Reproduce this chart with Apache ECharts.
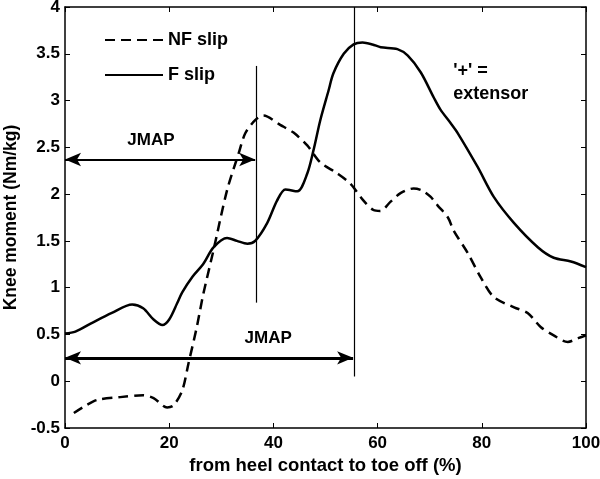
<!DOCTYPE html>
<html><head><meta charset="utf-8">
<script src="https://cdn.jsdelivr.net/npm/echarts@6/dist/echarts.min.js"></script>
<style>html,body{margin:0;padding:0;background:#fff}#c{width:600px;height:479px}</style>
</head><body><div id="c"></div>
<script>
// ---- data ----
const fSlip = [[0,0.51],[2,0.53],[5.4,0.63],[9,0.73],[12.9,0.82],[15,0.78],[17,0.66],[18.7,0.60],[20,0.66],[21.5,0.83],[22.5,0.95],[24.5,1.12],[26.5,1.25],[28.5,1.43],[31.1,1.53],[33,1.50],[35,1.47],[36.5,1.50],[38.8,1.69],[40.7,1.93],[42.3,2.05],[44.6,2.03],[46.5,2.22],[47.7,2.47],[49,2.79],[50.6,3.11],[51.5,3.29],[53.5,3.50],[55.4,3.60],[57.1,3.62],[59,3.60],[60.6,3.57],[63.8,3.55],[65.8,3.48],[68.3,3.30],[70.8,3.03],[72.1,2.90],[74,2.76],[75.4,2.65],[79.2,2.29],[82.3,1.97],[86.2,1.69],[90.8,1.43],[93.8,1.32],[97.1,1.28],[100,1.22]];
const nfSlip = [[1.7,-0.34],[4,-0.26],[6.2,-0.20],[10.6,-0.17],[15,-0.15],[17,-0.18],[19.6,-0.28],[20.8,-0.26],[22.5,-0.10],[23.7,0.19],[25.3,0.58],[26.5,0.92],[28.5,1.40],[31.1,2.04],[33.3,2.43],[34.6,2.65],[36.5,2.79],[38.1,2.84],[41.3,2.74],[43.8,2.66],[46.5,2.52],[49,2.34],[52.3,2.22],[54.8,2.11],[57.3,1.93],[59.2,1.83],[60.5,1.82],[62.5,1.92],[64.4,2.01],[66.9,2.06],[68.5,2.04],[70.2,1.97],[71.5,1.88],[73.5,1.75],[74.6,1.61],[77.3,1.37],[79.8,1.11],[82.3,0.90],[86.2,0.79],[88.8,0.73],[91.3,0.58],[93.8,0.49],[96.5,0.42],[98.5,0.46],[100,0.49]];
const seriesNames = ['NF slip','F slip'];
// JMAP markers: vertical lines [x, yFrom, yTo], arrows [xFrom, xTo, y]
const vLines = [[36.8,0.84,3.37],[55.5,0.05,4]];
const arrows = [[0,36.5,2.37],[0,55.3,0.25]];
const arrowLabels = [['JMAP',16.5,2.58],['JMAP',39,0.46]];
const noteText = ["'+' =", 'extensor'];
const notePos = [74.5,3.19];
const xTicks = [0,100,20];
const yTicks = [-0.5,4,0.5];

const font = 'Liberation Sans, Arial, sans-serif';
const chart = echarts.init(document.getElementById('c'));
const axBase = {
  axisLine:{show:true,onZero:false,lineStyle:{color:'#000',width:1.5}},
  axisTick:{show:true,inside:true,length:5,lineStyle:{color:'#000',width:1}},
  splitLine:{show:false}
};
const lab = {color:'#000',fontFamily:font,fontWeight:'bold',fontSize:17,textBorderWidth:0};
chart.setOption({
  animation:false,
  backgroundColor:'#fff',
  grid:{left:65,right:14,top:7,bottom:51,containLabel:false,outerBoundsMode:'none'},
  legend:{
    orient:'vertical',left:99,top:26,itemWidth:58,itemHeight:12,itemGap:17,
    itemStyle:{opacity:0},
    textStyle:{...lab,fontSize:18,padding:[0,0,0,0]},
    data:seriesNames
  },
  xAxis:[
    {type:'value',min:xTicks[0],max:xTicks[1],interval:xTicks[2],position:'bottom',...axBase,
     axisLabel:{...lab,margin:7},
     name:'from heel contact to toe off (%)',nameLocation:'middle',nameGap:26,nameTextStyle:{...lab,fontSize:18.5}},
    {type:'value',min:xTicks[0],max:xTicks[1],interval:xTicks[2],position:'top',...axBase,axisLabel:{show:false}}
  ],
  yAxis:[
    {type:'value',min:yTicks[0],max:yTicks[1],interval:yTicks[2],position:'left',...axBase,
     axisLabel:{...lab,margin:5},
     name:'Knee moment (Nm/kg)',nameLocation:'middle',nameGap:40,nameTextStyle:{...lab,fontSize:17.5}},
    {type:'value',min:yTicks[0],max:yTicks[1],interval:yTicks[2],position:'right',...axBase,axisLabel:{show:false}}
  ],
  series:[
    {name:seriesNames[0],type:'line',data:nfSlip,symbol:'none',smooth:0.3,
     lineStyle:{color:'#000',width:2.5,type:[10,6]},itemStyle:{color:'#000'}},
    {name:seriesNames[1],type:'line',data:fSlip,symbol:'none',smooth:0.3,
     lineStyle:{color:'#000',width:2.5},itemStyle:{color:'#000'},
     markLine:{silent:true,animation:false,label:{show:false},
       data:[
         ...vLines.map(v=>[{coord:[v[0],v[1]],symbol:'none',lineStyle:{width:1.2,color:'#000',type:'solid'}},{coord:[v[0],v[2]],symbol:'none'}]),
         ...arrows.map((a,i)=>[{coord:[a[0],a[2]],symbol:'arrow',symbolSize:[10,16],lineStyle:{width:i?3:2,color:'#000',type:'solid'}},{coord:[a[1],a[2]],symbol:'arrow',symbolSize:[10,16]}])
       ]}
    },
    {type:'scatter',symbolSize:0,silent:true,itemStyle:{opacity:1,color:'#000'},
     data:arrowLabels.map(l=>({value:[l[1],l[2]],name:l[0]})),
     label:{show:true,position:'inside',formatter:p=>p.name,...lab,fontSize:17}},
    {type:'scatter',symbolSize:0,silent:true,itemStyle:{opacity:1,color:'#000'},
     data:[{value:notePos,name:noteText.join('\n')}],
     label:{show:true,position:'inside',align:'left',formatter:p=>p.name,...lab,fontSize:18,lineHeight:23}}
  ]
});
</script></body></html>
